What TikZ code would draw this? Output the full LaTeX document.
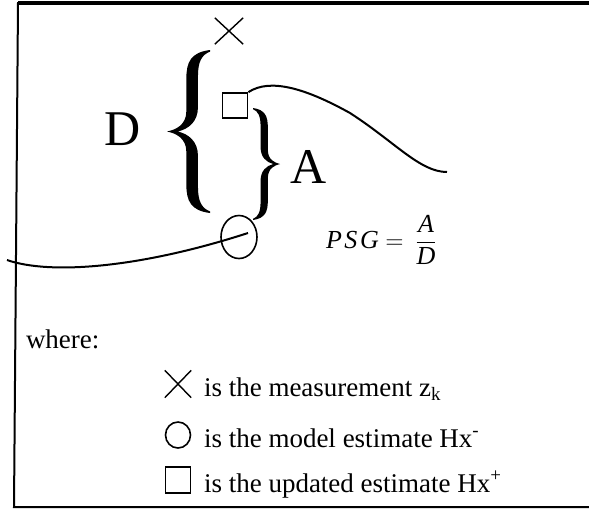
\documentclass[tikz,border=0pt]{standalone}
\usepackage{fontspec}
\setmainfont{Liberation Serif}
\usetikzlibrary{shapes.geometric,shapes.misc}

\tikzset{curly/.pic={
  \fill (1,1) .. controls (0.55,0.97) and (0.45,0.85) .. (0.45,0.65) -- (0.45,0.25)
    .. controls (0.45,0.08) and (0.2,0.02) .. (0,0)
    .. controls (0.2,-0.02) and (0.45,-0.08) .. (0.45,-0.25) -- (0.45,-0.65)
    .. controls (0.45,-0.85) and (0.55,-0.97) .. (1,-1) -- (1,-0.98)
    .. controls (0.8,-0.94) and (0.72,-0.85) .. (0.72,-0.68) -- (0.72,-0.3)
    .. controls (0.72,-0.12) and (0.5,-0.03) .. (0.25,0)
    .. controls (0.5,0.03) and (0.72,0.12) .. (0.72,0.3) -- (0.72,0.68)
    .. controls (0.72,0.85) and (0.8,0.94) .. (1,0.98) -- cycle;}}

\begin{document}
\begin{tikzpicture}[x=0.5pt,y=-0.5pt,line width=1pt,
  every node/.style={font=\fontsize{13.5}{16}\selectfont},
  meas/.style={draw,cross out,line width=.7pt,minimum width=13.5pt,minimum height=12.5pt,inner sep=0},
  model/.style={draw,ellipse,line width=.8pt,minimum width=18pt,minimum height=21.5pt,inner sep=0},
  upd/.style={draw,rectangle,line width=.9pt,minimum size=12.5pt,inner sep=0},
  big/.style={font=\fontsize{25}{30}\selectfont}]
  \useasboundingbox (0,0) rectangle (589,511);
  % frame, open on the right
  \draw (589,3) -- (18,3) -- (14,507) -- (589,507);
  \draw[line width=1.6pt] (589,3) -- (18,3);

  % the three estimates
  \node[meas] (zk) at (229,31) {};
  \node[upd] (hxplus) at (235,105.5) {};
  \node[model] (hxminus) at (239,237) {};
  \pic[xscale=43,yscale=81.5] at (167,131.5) {curly};
  \pic[xscale=-27,yscale=56] at (280,164) {curly};
  \node[big] (dlabel) at (123,129.5) {D};
  \node[big] (alabel) at (308.5,166.5) {A};

  \coordinate (upperend) at (447,172);
  \coordinate (lowerstart) at (7,260);
  \coordinate (lowerend) at (248,233);
  \draw (hxplus.north east) .. controls (270,78) and (305,88) .. (350,113)
        .. controls (395,142) and (420,172) .. (upperend);
  \draw (lowerstart) .. controls (50,275) and (140,268) .. (lowerend);

  \node[anchor=west,inner sep=0,font=\fontsize{13}{15}\selectfont] (psg) at (325,240)
    {{\itshape\addfontfeature{LetterSpace=10}PSG} $=\,\displaystyle\frac{\textit{A}}{\textit{D}}$};

  % legend
  \node[anchor=base west,inner xsep=0] (where) at (25,348) {where:};
  \foreach \mk/\yy/\txt in {meas/384/{is the measurement z\textsubscript{k}},
      model/435/{is the model estimate Hx\textsuperscript{-}},
      upd/480/{is the updated estimate Hx\textsuperscript{+}}}{
    \node[\mk,minimum width=12.5pt,minimum height=13pt] (key\mk) at (178,\yy) {};
    \node[anchor=base west,inner xsep=0] (text\mk) at (203,\yy+12) {\txt};
  }
\end{tikzpicture}
\end{document}
